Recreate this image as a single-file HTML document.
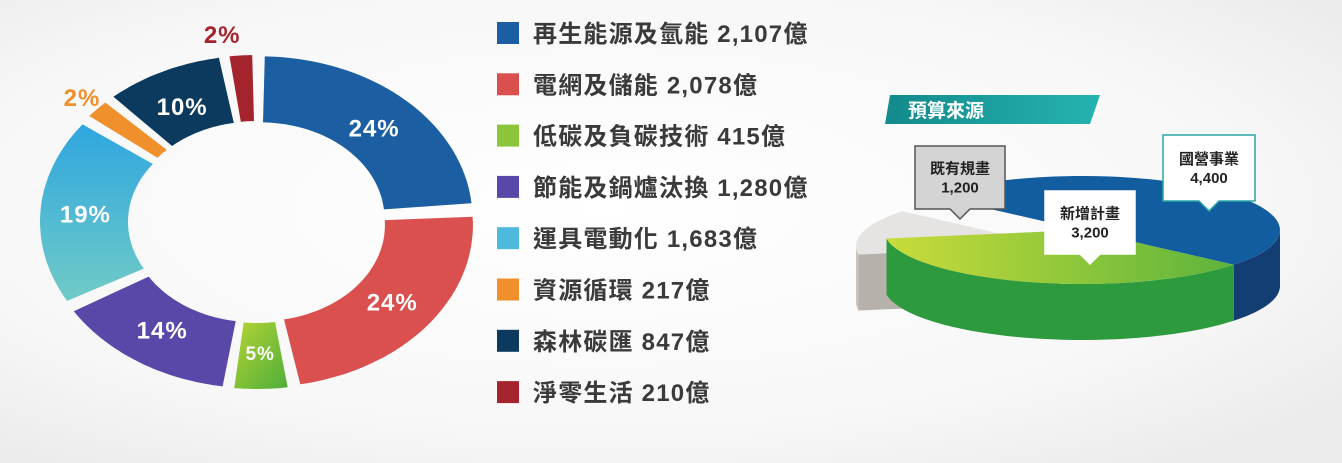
<!DOCTYPE html>
<html><head><meta charset="utf-8"><style>
html,body{margin:0;padding:0;width:1342px;height:463px;overflow:hidden;background:#f1f1f1;}
svg text{font-family:"Liberation Sans","Noto Sans CJK TC",sans-serif;font-weight:bold;}
</style></head><body>
<svg id="chart" width="1342" height="463" xmlns="http://www.w3.org/2000/svg">
<defs>
<radialGradient id="bg" cx="0.45" cy="0.45" r="0.7"><stop offset="0" stop-color="#ffffff"/><stop offset="0.7" stop-color="#f7f7f7"/><stop offset="1" stop-color="#ebebeb"/></radialGradient>
<linearGradient id="gGreen" x1="0" y1="0" x2="1" y2="1"><stop offset="0" stop-color="#b5d334"/><stop offset="1" stop-color="#4eae3a"/></linearGradient>
<linearGradient id="gLight" x1="0" y1="0" x2="0" y2="1"><stop offset="0" stop-color="#2fa6e0"/><stop offset="1" stop-color="#70cbc6"/></linearGradient>
<linearGradient id="gTop" x1="0" y1="0" x2="1" y2="0"><stop offset="0" stop-color="#c9dc3a"/><stop offset="1" stop-color="#5cb43c"/></linearGradient>
<linearGradient id="gBanner" x1="0" y1="0" x2="1" y2="0"><stop offset="0" stop-color="#138a8c"/><stop offset="1" stop-color="#25b3b0"/></linearGradient>
</defs>
<rect x="0" y="0" width="1342" height="463" fill="url(#bg)"/>
<g id="donut"></g>
<g id="legend"></g>
<g id="pie3d"></g>
</svg>
<script>
const categories=["再生能源及氫能","電網及儲能","低碳及負碳技術","節能及鍋爐汰換","運具電動化","資源循環","森林碳匯","淨零生活"];
const values=[2107,2078,415,1280,1683,217,847,210];
const percentLabels=["24%","24%","5%","14%","19%","2%","10%","2%"];
const valueLabels=["2,107億","2,078億","415億","1,280億","1,683億","217億","847億","210億"];
const colors=["#1b5fa2","#d9504f","url(#gGreen)","#5a48a8","url(#gLight)","#f0902c","#0c3a5e","#a3242c"];
const legendColors=["#1b5fa2","#d9504f","#8cc43a","#5a48a8","#4fb8dd","#f0902c","#0c3a5e","#a3242c"];
const labelColors=["#fff","#fff","#fff","#fff","#fff","#f0902c","#fff","#a3242c"];

const srcCategories=["國營事業","新增計畫","既有規畫"];
const srcValues=[4400,3200,1200];
const srcLabels=["4,400","3,200","1,200"];

const NS="http://www.w3.org/2000/svg";
function mk(tag,attrs,parent){const e=document.createElementNS(NS,tag);for(const k in attrs)e.setAttribute(k,attrs[k]);parent.appendChild(e);return e;}

// Donut
const donut=document.getElementById('donut');
const cx=257,cy=222,RX=212,RY=162,rx=124,ry=96,gapDeg=1.2,explode=5;
const total=values.reduce((a,b)=>a+b,0);
function pt(t,a,b,ox,oy){const r=t*Math.PI/180;return [cx+ox+a*Math.sin(r),cy+oy-b*Math.cos(r)];}
let acc=0;
values.forEach((v,i)=>{
  const a0=acc/total*360+gapDeg, a1=(acc+v)/total*360-gapDeg; acc+=v;
  const mid=(a0+a1)/2, mr=mid*Math.PI/180;
  const ox=explode*Math.sin(mr), oy=-explode*Math.cos(mr);
  let d="";const n=40;
  for(let k=0;k<=n;k++){const p=pt(a0+(a1-a0)*k/n,RX,RY,ox,oy);d+=(k?"L":"M")+p[0].toFixed(1)+","+p[1].toFixed(1);}
  for(let k=n;k>=0;k--){const p=pt(a0+(a1-a0)*k/n,rx,ry,ox,oy);d+="L"+p[0].toFixed(1)+","+p[1].toFixed(1);}
  d+="Z";
  const s=mk('path',{d:d,fill:colors[i]},donut);
  
  
  const small=v/total<0.03;
  const lp=small?pt(mid-4,RX+30,RY+28,0,0):pt(mid,(RX+rx)/2+4,(RY+ry)/2,0,0);
  if(i===5){lp[0]=82;lp[1]=97;}
  const t=mk('text',{x:lp[0],y:lp[1]+9,'text-anchor':'middle','font-size':i===2?19:24,'letter-spacing':1,fill:labelColors[i]},donut);
  t.textContent=percentLabels[i];
  
  
});

// Legend
const legend=document.getElementById('legend');
categories.forEach((c,i)=>{
  const y=33+i*51.3;
  const r=mk('rect',{x:497,y:y-11,width:22,height:22,fill:legendColors[i]},legend);
  
  
  const t=mk('text',{x:533,y:y+9,'font-size':24,'letter-spacing':1.2,fill:'#3a3a3a'},legend);
  t.textContent=c+" "+valueLabels[i];
  
  
});

// 3D pie
const pie=document.getElementById('pie3d');
const pcx=1082,pcy=230,PRX=198,PRY=54,depth=56;
const pTop=["#125da0","url(#gTop)","#e6e4e2"];
const pSide=["#123e74","#2e9a3e","#c9c4bf"];
const pExp=[[0,0],[0,0],[-28,16]];
const srcTotal=srcValues.reduce((a,b)=>a+b,0);
function pp(t,ox,oy,dy){const r=t*Math.PI/180;return [pcx+ox+PRX*Math.sin(r),pcy+oy+dy-PRY*Math.cos(r)];}
let pa=-50;
const slices=srcValues.map((v,i)=>{const a0=pa,a1=pa+v/srcTotal*360;pa=a1;return [a0,a1];});
const order=[2,0,1];
order.forEach(i=>{
  const [a0,a1]=slices[i];
  const [ox,oy]=pExp[i];
  const s0=Math.max(a0,90),s1=Math.min(a1,270);
  let d="";
  if(s1>s0){
    const n=40;
    for(let k=0;k<=n;k++){const p=pp(s0+(s1-s0)*k/n,ox,oy,0);d+=(k?"L":"M")+p[0].toFixed(1)+","+p[1].toFixed(1);}
    for(let k=n;k>=0;k--){const p=pp(s0+(s1-s0)*k/n,ox,oy,depth);d+="L"+p[0].toFixed(1)+","+p[1].toFixed(1);}
    d+="Z";
  }
  if(i===2){
    const p=pp(a0,ox,oy,0);const c=[pcx+ox,pcy+oy];
    const w=mk('path',{d:`M${c[0]},${c[1]}L${p[0]},${p[1]}L${p[0]},${p[1]+depth}L${c[0]},${c[1]+depth}Z`,fill:'#b7b1ab'},pie);
    
    
  }
  if(d){const e=mk('path',{d:d,fill:pSide[i]},pie);
  
  }
  let t=`M${pcx+ox},${pcy+oy}`;const n=60;
  for(let k=0;k<=n;k++){const p=pp(a0+(a1-a0)*k/n,ox,oy,0);t+="L"+p[0].toFixed(1)+","+p[1].toFixed(1);}
  t+="Z";
  const e=mk('path',{d:t,fill:pTop[i]},pie);
  
  
});
// banner
const b=mk('path',{d:'M890,95 L1100,95 L1090,124 L885,124 Z',fill:'url(#gBanner)'},pie);


const bt=mk('text',{x:908,y:117,'font-size':19,fill:'#fff'},pie);
bt.textContent="預算來源";


// callouts
const boxes=[[1163,135,92,66,'#fff','#2aa6a6'],[1045,191,90,63,'#fff','#fff'],[915,146,90,63,'#d4d4d4','#555']];
boxes.forEach(([x,y,w,h,f,s],i)=>{
  const mx=x+w/2;
  const bx=mk('path',{d:`M${x},${y}H${x+w}V${y+h}H${mx+10}L${mx},${y+h+10}L${mx-10},${y+h}H${x}Z`,fill:f,stroke:s,'stroke-width':1.5},pie);
  
  
  const t1=mk('text',{x:mx,y:y+h/2-4,'text-anchor':'middle','font-size':15,fill:'#222'},pie);
  t1.textContent=srcCategories[i];
  
  
  const t2=mk('text',{x:mx,y:y+h/2+15,'text-anchor':'middle','font-size':15,fill:'#222'},pie);
  t2.textContent=srcLabels[i];
  
  
});
</script>
</body></html>
